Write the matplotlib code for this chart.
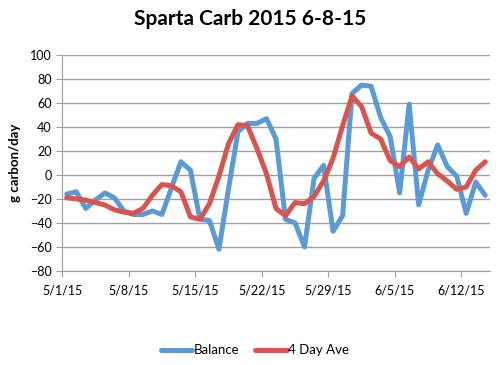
import matplotlib.pyplot as plt
import matplotlib.dates as mdates
import pandas as pd

plt.rcParams['font.family'] = ['Lato', 'DejaVu Sans']

# daily values, 5/1/15 .. 6/14/15
days = pd.date_range('2015-05-01 12:00', periods=45, freq='D')
balance = [-16, -14, -28, -21, -15, -19, -30, -33, -33, -30,
           -33, -11, 11, 4, -37, -38, -62, -12, 36, 43,
           43, 47, 30, -37, -40, -60, -3, 8, -47, -34,
           68, 75, 74, 48, 32, -15, 59, -25, 4, 25,
           7, -1, -32, -6, -17]
day4_ave = [-19, -20, -21, -23, -25, -29, -31, -32, -28, -17,
            -8, -9, -14, -35, -37, -24, -1, 26, 42, 41,
            22, 1, -28, -34, -23, -24, -18, -5, 14, 41,
            66, 57, 35, 30, 12, 7, 15, 5, 11, 1,
            -5, -12, -10, 4, 11]
tick_days = pd.date_range('2015-05-01', '2015-06-12', freq='7D')

fig = plt.figure(figsize=(5, 3.65), dpi=100)
ax = fig.add_axes([0.124, 0.258, 0.856, 0.591])

ax.plot(days, balance, color='#5B9BD5', lw=3.6, solid_joinstyle='round',
        solid_capstyle='round', label='Balance')
ax.plot(days, day4_ave, color='#D9534F', lw=3.6, solid_joinstyle='round',
        solid_capstyle='round', label='4 Day Ave')

ax.set_ylim(-80, 100)
ax.set_yticks(range(-80, 101, 20))
ax.set_xlim(pd.Timestamp('2015-05-01'), pd.Timestamp('2015-06-15'))
ax.set_xticks(tick_days)
ax.xaxis.set_major_formatter(
    plt.FuncFormatter(lambda x, p: (lambda d: f'{d.month}/{d.day}/{d.strftime("%y")}')(mdates.num2date(x))))

ax.grid(axis='y', color='#A0A0A0', lw=1)
ax.set_axisbelow(True)
for s in ['top', 'right']:
    ax.spines[s].set_visible(False)
for s in ['left', 'bottom']:
    ax.spines[s].set_color('#A0A0A0')
ax.tick_params(axis='both', colors='#A0A0A0', labelcolor='black', labelsize=9, length=4)
ax.tick_params(axis='x', pad=6)

ax.set_ylabel('g carbon/day', fontsize=9.5, fontweight='bold', labelpad=6)
fig.suptitle('Sparta Carb 2015 6-8-15', fontsize=15, fontweight='bold', x=0.5, y=0.975)

fig.legend(loc='center', bbox_to_anchor=(0.51, 0.04), ncol=2, frameon=False,
           fontsize=9.5, handlelength=2.4, handletextpad=0.1, columnspacing=1.2)

fig.savefig('out.png', dpi=100)
